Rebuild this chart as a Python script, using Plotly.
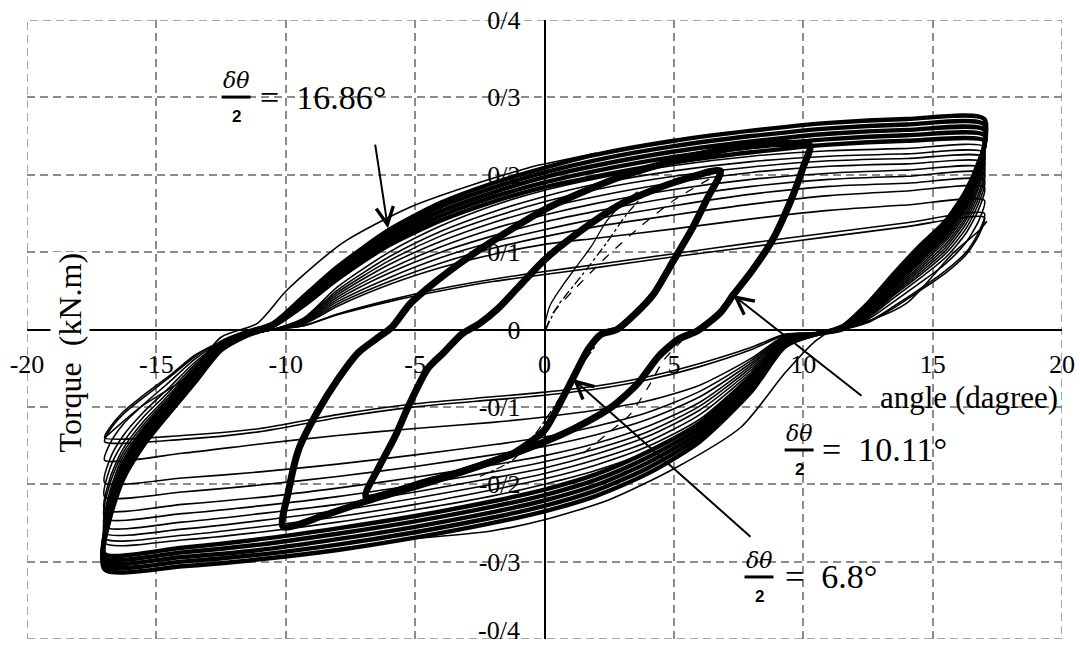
import plotly.graph_objects as go

# ---- shared abscissae for the four parts of every large (+/-17 deg) loop ----
rise_x = [10.5, 11.5, 12.5, 13.5, 14.5, 15.5, 16.3, 16.8, 17.0]
top_x = [14, 11, 8, 5, 2, 0, -2, -4, -6, -8, -9.3]
drop_x = [-10.5, -11.5, -12.5, -13.5, -14.5, -15.5, -16.3, -16.8, -17.0]
bottom_x = [-14, -11, -8, -5, -2, 0, 2, 4, 6, 8, 9.3]

# ---- strong large loops (dense outer band) ----
strong_rise = [
    [-0.006, 0.000, 0.024, 0.058, 0.090, 0.123, 0.162, 0.205, 0.272],
    [-0.006, 0.001, 0.026, 0.062, 0.095, 0.127, 0.167, 0.209, 0.265],
    [-0.006, 0.002, 0.029, 0.065, 0.099, 0.131, 0.171, 0.212, 0.258],
    [-0.006, 0.003, 0.031, 0.068, 0.103, 0.136, 0.176, 0.215, 0.251],
    [-0.006, 0.004, 0.034, 0.072, 0.108, 0.140, 0.180, 0.218, 0.244],
]
strong_top = [
    [0.272, 0.267, 0.257, 0.244, 0.226, 0.209, 0.189, 0.164, 0.129, 0.081, 0.043],
    [0.265, 0.260, 0.250, 0.237, 0.219, 0.203, 0.183, 0.159, 0.124, 0.077, 0.040],
    [0.258, 0.253, 0.243, 0.230, 0.212, 0.197, 0.177, 0.153, 0.119, 0.073, 0.037],
    [0.251, 0.246, 0.236, 0.223, 0.205, 0.190, 0.171, 0.147, 0.114, 0.069, 0.034],
    [0.244, 0.239, 0.229, 0.216, 0.198, 0.184, 0.165, 0.141, 0.109, 0.065, 0.031],
]
strong_drop = [
    [0.008, -0.003, -0.017, -0.052, -0.092, -0.130, -0.175, -0.230, -0.310],
    [0.007, -0.004, -0.020, -0.056, -0.096, -0.135, -0.180, -0.234, -0.305],
    [0.006, -0.006, -0.022, -0.060, -0.100, -0.140, -0.185, -0.238, -0.300],
    [0.005, -0.007, -0.025, -0.064, -0.104, -0.145, -0.190, -0.241, -0.295],
    [0.004, -0.008, -0.027, -0.068, -0.108, -0.150, -0.195, -0.245, -0.290],
]
strong_bottom = [
    [-0.306, -0.297, -0.285, -0.269, -0.250, -0.235, -0.215, -0.186, -0.145, -0.080, -0.022],
    [-0.300, -0.291, -0.278, -0.262, -0.243, -0.228, -0.208, -0.179, -0.139, -0.075, -0.020],
    [-0.294, -0.285, -0.271, -0.255, -0.236, -0.221, -0.201, -0.172, -0.133, -0.070, -0.018],
    [-0.288, -0.278, -0.264, -0.248, -0.229, -0.214, -0.194, -0.165, -0.127, -0.065, -0.016],
    [-0.282, -0.271, -0.257, -0.241, -0.222, -0.207, -0.187, -0.158, -0.121, -0.060, -0.014],
]

# ---- degrading large loops (the fanned thin lines) ----
fade_rise = [
    [-0.005, 0.0, 0.022, 0.056, 0.088, 0.120, 0.158, 0.200, 0.236],
    [-0.005, 0.0, 0.021, 0.054, 0.085, 0.117, 0.154, 0.195, 0.229],
    [-0.005, 0.0, 0.020, 0.052, 0.082, 0.114, 0.150, 0.190, 0.223],
    [-0.005, 0.0, 0.019, 0.050, 0.079, 0.110, 0.146, 0.185, 0.216],
    [-0.005, 0.0, 0.018, 0.048, 0.076, 0.106, 0.142, 0.178, 0.209],
    [-0.005, 0.0, 0.017, 0.046, 0.073, 0.102, 0.137, 0.172, 0.202],
    [-0.005, 0.0, 0.016, 0.044, 0.070, 0.098, 0.131, 0.165, 0.193],
    [-0.005, 0.0, 0.015, 0.041, 0.066, 0.093, 0.125, 0.157, 0.184],
    [-0.005, 0.0, 0.013, 0.036, 0.060, 0.085, 0.113, 0.142, 0.167],
    [-0.004, 0.0, 0.010, 0.030, 0.052, 0.076, 0.100, 0.127, 0.150],
    [-0.004, 0.0, 0.009, 0.028, 0.050, 0.073, 0.097, 0.123, 0.145],
]
fade_top = [
    [0.234, 0.231, 0.224, 0.212, 0.195, 0.180, 0.160, 0.134, 0.100, 0.055, 0.015],
    [0.227, 0.224, 0.217, 0.205, 0.188, 0.172, 0.152, 0.127, 0.094, 0.051, 0.014],
    [0.221, 0.218, 0.210, 0.198, 0.181, 0.165, 0.145, 0.121, 0.089, 0.048, 0.013],
    [0.214, 0.211, 0.203, 0.190, 0.172, 0.157, 0.138, 0.114, 0.084, 0.045, 0.012],
    [0.206, 0.202, 0.194, 0.181, 0.163, 0.148, 0.130, 0.107, 0.078, 0.042, 0.011],
    [0.198, 0.194, 0.185, 0.171, 0.153, 0.139, 0.121, 0.100, 0.073, 0.039, 0.010],
    [0.189, 0.185, 0.175, 0.160, 0.143, 0.129, 0.113, 0.093, 0.067, 0.036, 0.009],
    [0.179, 0.173, 0.162, 0.148, 0.133, 0.120, 0.105, 0.086, 0.062, 0.033, 0.008],
    [0.161, 0.154, 0.143, 0.130, 0.118, 0.110, 0.097, 0.080, 0.058, 0.030, 0.007],
    [0.138, 0.125, 0.112, 0.098, 0.084, 0.075, 0.065, 0.053, 0.038, 0.020, 0.005],
    [0.133, 0.120, 0.107, 0.094, 0.080, 0.071, 0.062, 0.050, 0.036, 0.019, 0.005],
]
fade_drop = [
    [0.0, -0.007, -0.022, -0.058, -0.097, -0.136, -0.178, -0.225, -0.276],
    [0.0, -0.007, -0.021, -0.056, -0.095, -0.133, -0.175, -0.220, -0.270],
    [0.0, -0.007, -0.021, -0.055, -0.093, -0.130, -0.170, -0.215, -0.263],
    [0.0, -0.007, -0.020, -0.053, -0.090, -0.127, -0.165, -0.210, -0.255],
    [0.0, -0.007, -0.020, -0.050, -0.087, -0.123, -0.160, -0.200, -0.244],
    [0.0, -0.007, -0.019, -0.048, -0.084, -0.119, -0.155, -0.193, -0.233],
    [0.0, -0.007, -0.019, -0.045, -0.080, -0.113, -0.147, -0.180, -0.216],
    [0.0, -0.006, -0.018, -0.042, -0.075, -0.107, -0.138, -0.168, -0.198],
    [0.0, -0.006, -0.017, -0.038, -0.068, -0.097, -0.123, -0.148, -0.169],
    [0.0, -0.006, -0.016, -0.035, -0.062, -0.088, -0.110, -0.130, -0.145],
    [0.0, -0.006, -0.016, -0.033, -0.060, -0.085, -0.107, -0.127, -0.140],
]
fade_bottom = [
    [-0.272, -0.262, -0.249, -0.233, -0.215, -0.200, -0.182, -0.158, -0.122, -0.062, -0.016],
    [-0.266, -0.255, -0.242, -0.226, -0.207, -0.193, -0.175, -0.151, -0.116, -0.058, -0.015],
    [-0.258, -0.247, -0.234, -0.218, -0.200, -0.186, -0.168, -0.145, -0.110, -0.055, -0.014],
    [-0.249, -0.238, -0.226, -0.210, -0.192, -0.179, -0.161, -0.138, -0.104, -0.052, -0.013],
    [-0.238, -0.228, -0.216, -0.201, -0.184, -0.171, -0.154, -0.132, -0.099, -0.049, -0.012],
    [-0.226, -0.217, -0.205, -0.191, -0.175, -0.163, -0.147, -0.125, -0.094, -0.046, -0.011],
    [-0.210, -0.201, -0.190, -0.177, -0.162, -0.151, -0.136, -0.116, -0.087, -0.043, -0.010],
    [-0.192, -0.184, -0.174, -0.162, -0.149, -0.139, -0.125, -0.107, -0.080, -0.040, -0.009],
    [-0.160, -0.148, -0.137, -0.128, -0.120, -0.113, -0.104, -0.092, -0.072, -0.037, -0.008],
    [-0.142, -0.132, -0.114, -0.100, -0.091, -0.085, -0.077, -0.065, -0.048, -0.026, -0.007],
    [-0.137, -0.128, -0.110, -0.096, -0.087, -0.081, -0.073, -0.061, -0.044, -0.023, -0.006],
]

# ---- first large excursion (outermost single lines) ----
first_top_x = [2, 0, -0.3, -2.6, -5.2, -7.8, -9.95, -11.1, -12.5, -13.8, -15.6, -17.0]
first_top_y = [0.228, 0.214, 0.212, 0.189, 0.158, 0.112, 0.051, 0.008, -0.010, -0.061, -0.100, -0.140]
first_bottom_x = [-5, -2, 0, 2.5, 5, 7.6, 9.3, 10.5, 11.2, 12.6, 14, 15.8, 16.8, 17.1]
first_bottom_y = [-0.270, -0.260, -0.246, -0.220, -0.180, -0.126, -0.056, -0.014, 0.0, 0.012, 0.034, 0.099, 0.128, 0.140]

# ---- +/-10.11 deg cycles ----
mid_x = [-10.1, -8.5, -6.9, -4.5, -2.4, 0, 1.2, 2.6, 3.6, 4.4, 5.2, 5.9, 6.8, 7.3, 8.0, 8.8, 9.5, 10.0, 10.25,
         9.0, 7.0, 5.0, 3.0, 1.5, 0, -1.5, -3.0, -4.2, -5.2, -5.9, -6.5, -7.2, -8.0, -8.8, -9.5, -9.9, -10.1]
mid_y = [-0.255, -0.240, -0.222, -0.198, -0.175, -0.145, -0.127, -0.100, -0.070, -0.035, -0.012, -0.002, 0.022,
         0.045, 0.075, 0.115, 0.165, 0.210, 0.238,
         0.240, 0.233, 0.218, 0.198, 0.178, 0.155, 0.125, 0.092, 0.062, 0.033, 0.003, -0.012, -0.030, -0.065,
         -0.108, -0.155, -0.210, -0.255]

# ---- +/-6.8 deg cycles ----
small_x = [-6.9, -4.5, -2.7, -1.2, 0, 0.6, 1.1, 1.7, 2.2, 2.8, 3.5, 4.2, 5.0, 5.7, 6.3, 6.8,
           5.0, 3.0, 1.5, 0, -1.0, -1.8, -2.5, -3.2, -3.9, -4.5, -5.2, -5.8, -6.4, -6.9]
small_y = [-0.216, -0.196, -0.178, -0.160, -0.130, -0.095, -0.063, -0.025, -0.006, 0.0, 0.020, 0.045, 0.090,
           0.130, 0.170, 0.205,
           0.190, 0.163, 0.130, 0.090, 0.055, 0.027, 0.008, -0.006, -0.030, -0.050, -0.095, -0.140, -0.178, -0.216]

# ---- initial loading and light dashed traces ----
init_solid_x = [0.0, 0.2, 0.6, 1.25, 1.8, 2.4, 3.0, 3.6]
init_solid_y = [0.005, 0.030, 0.052, 0.082, 0.107, 0.140, 0.162, 0.178]
init_dash_x = [0.05, 0.3, 1.1, 2.4, 3.7, 5.0, 6.5]
init_dash_y = [0.0, 0.020, 0.050, 0.094, 0.133, 0.167, 0.197]
init_dot_x = [0.05, 0.5, 1.4, 2.4, 3.2, 3.8]
init_dot_y = [0.0, 0.030, 0.068, 0.112, 0.150, 0.172]
low_dash_x = [1.5, 2.6, 3.3, 4.0, 4.6, 5.3]
low_dash_y = [-0.160, -0.130, -0.110, -0.075, -0.040, -0.015]
low_dot_x = [-2.5, -1.2, -0.2, 0.5, 1.3, 2.0]
low_dot_y = [-0.190, -0.168, -0.128, -0.093, -0.052, -0.020]

x_range = [-20, 20]
y_range = [-0.4, 0.4]
x_ticks = [-20, -15, -10, -5, 0, 5, 10, 15, 20]
y_ticks = [-0.4, -0.3, -0.2, -0.1, 0, 0.1, 0.2, 0.3, 0.4]
y_tick_text = ["-0/4", "-0/3", "-0/2", "-0/1", "0", "0/1", "0/2", "0/3", "0/4"]

SERIF = "Liberation Serif"
MATH = "DejaVu Serif"
GRID = "#8c8c8c"
DASH = "8px,5px"

fig = go.Figure()


def add_line(x, y, width, dash="solid", smooth=0.7):
    fig.add_trace(go.Scatter(
        x=x, y=y, mode="lines", hoverinfo="skip", showlegend=False,
        line=dict(color="black", width=width, dash=dash, shape="spline", smoothing=smooth),
    ))


def add_loop(rise, top, drop, bottom, width):
    xs = rise_x + top_x + drop_x + bottom_x + rise_x[:1]
    ys = rise + top + drop + bottom + rise[:1]
    add_line(xs, ys, width)


for r, t, d, b in zip(fade_rise, fade_top, fade_drop, fade_bottom):
    add_loop(r, t, d, b, 1.6)
for r, t, d, b in zip(strong_rise, strong_top, strong_drop, strong_bottom):
    add_loop(r, t, d, b, 4.4)

add_line(first_top_x, first_top_y, 1.6)
add_line(first_bottom_x, first_bottom_y, 1.6)
add_line(mid_x, mid_y, 7)
add_line(small_x, small_y, 7)
add_line(init_solid_x, init_solid_y, 1.3)
add_line(init_dash_x, init_dash_y, 1.3, "dash")
add_line(init_dot_x, init_dot_y, 1.3, "dashdot")
add_line(low_dash_x, low_dash_y, 1.3, "dash")
add_line(low_dot_x, low_dot_y, 1.3, "dashdot")

axis_common = dict(
    showgrid=True, gridcolor=GRID, gridwidth=1.5, griddash=DASH,
    zeroline=False, showline=True, linecolor="black", linewidth=1.5,
    anchor="free", position=0.5, ticks="", layer="below traces",
    tickfont=dict(family=SERIF, size=26, color="black"),
)
fig.update_xaxes(range=x_range, tickvals=x_ticks, ticktext=[str(v) for v in x_ticks],
                 ticklabelstandoff=12, **axis_common)
fig.update_yaxes(range=y_range, tickvals=y_ticks, ticktext=y_tick_text,
                 ticklabelstandoff=18, **axis_common)

annotations = [
    dict(x=16.4, y=-0.0885, xref="x", yref="y", text="angle (dagree)", showarrow=False,
         font=dict(family=SERIF, size=31, color="black"), xanchor="center", yanchor="middle"),
    dict(x=-18.35, y=-0.03, xref="x", yref="y", text="Torque  (kN.m)", showarrow=False, textangle=-90,
         font=dict(family=SERIF, size=32, color="black"), bgcolor="white", xanchor="center", yanchor="middle"),
    # lowest tick label, kept just inside the bottom edge of the figure
    dict(x=-0.88, y=y_ticks[0], xref="x", yref="y", yshift=9, text=y_tick_text[0], showarrow=False,
         font=dict(family=SERIF, size=26, color="black"), xanchor="right", yanchor="middle"),
]
# arrows: tip in data units, tail offset in pixels
arrows = [(-6.05, 0.131, -13, -85), (7.285, 0.0446, 130, 102), (1.10, -0.064, 179, 159)]
for ax_, ay_, dx, dy in arrows:
    annotations.append(dict(x=ax_, y=ay_, xref="x", yref="y", text="", showarrow=True, ax=dx, ay=dy,
                            arrowhead=5, arrowsize=1.7, arrowwidth=2, arrowcolor="black", standoff=0))

# outer dashed frame of the grid
shapes = [dict(type="rect", xref="x", yref="y", x0=x_range[0], x1=x_range[1], y0=y_range[0], y1=y_range[1],
               layer="below", line=dict(color=GRID, width=1.5, dash=DASH))]

# fraction labels: (centre x of fraction, y of bar, left of "=", value)
fractions = [(-11.92, 0.3004, -11.07, "16.86"), (9.84, -0.1557, 10.65, "10.11"), (8.29, -0.3198, 9.22, "6.8")]
for fx, fy, ex, val in fractions:
    annotations.append(dict(x=fx, y=fy + 0.021, xref="x", yref="y", text="<i>δθ</i>", showarrow=False,
                            font=dict(family=MATH, size=22, color="black"), xanchor="center", yanchor="middle"))
    annotations.append(dict(x=fx, y=fy - 0.025, xref="x", yref="y", text="<b>2</b>", showarrow=False,
                            font=dict(family="Liberation Sans", size=17, color="black"),
                            xanchor="center", yanchor="middle"))
    annotations.append(dict(x=ex, y=fy, xref="x", yref="y", text="=  " + val + "°", showarrow=False,
                            font=dict(family=SERIF, size=34, color="black"), xanchor="left", yanchor="middle"))
    shapes.append(dict(type="line", xref="x", yref="y", x0=fx - 0.56, x1=fx + 0.56, y0=fy, y1=fy,
                       line=dict(color="black", width=3)))

fig.update_layout(
    width=1080, height=645,
    margin=dict(l=27, r=18, t=20, b=6),
    paper_bgcolor="white", plot_bgcolor="white",
    annotations=annotations, shapes=shapes,
)
fig.write_html("out.html")
